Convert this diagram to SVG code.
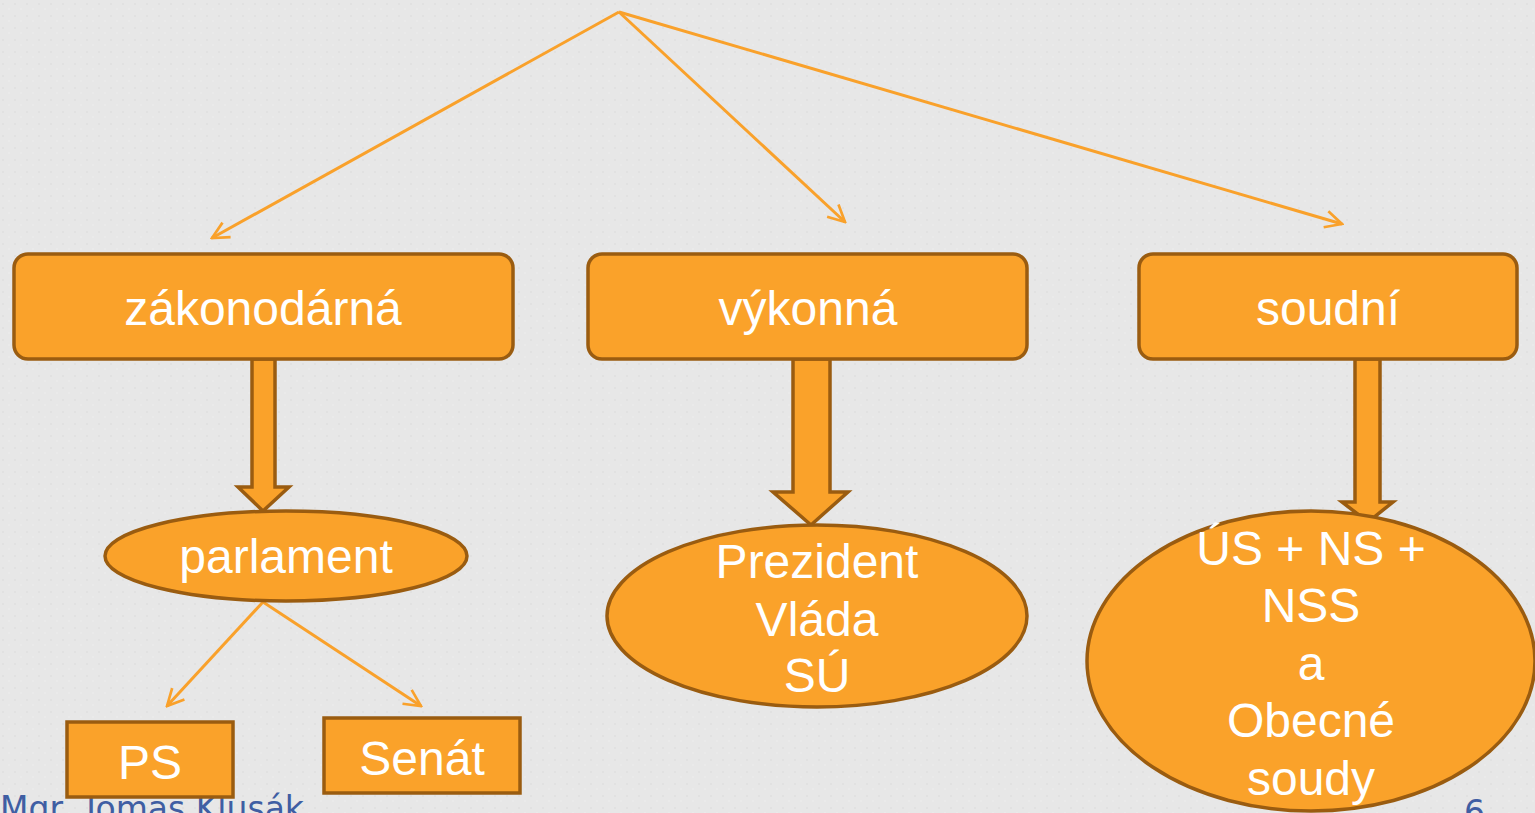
<svg xmlns="http://www.w3.org/2000/svg" width="1535" height="813" viewBox="0 0 1535 813">
<defs>
<style>
.box{fill:#faa22a;stroke:#9a5c10;stroke-width:3.5}
.t{fill:#ffffff;font-family:"Liberation Sans",Arial,sans-serif;font-size:48px;text-anchor:middle}
.ln{stroke:#f9a12b;stroke-width:3;fill:none}
.foot{fill:#3f5ea3;font-family:"DejaVu Sans",sans-serif;font-size:33px}
</style>
<marker id="ah" viewBox="0 0 12 12" refX="11" refY="6" markerWidth="20" markerHeight="20" markerUnits="userSpaceOnUse" orient="auto">
<path d="M1,1 L11,6 L1,11" fill="none" stroke="#f9a12b" stroke-width="1.6"/>
</marker>
<pattern id="noise" width="12" height="12" patternUnits="userSpaceOnUse">
<rect width="12" height="12" fill="#e7e7e7"/>
<circle cx="3" cy="4" r="0.8" fill="#dadada"/>
<circle cx="9" cy="9" r="0.7" fill="#f1f1f1"/>
</pattern>
</defs>
<rect width="1535" height="813" fill="url(#noise)"/>
<text class="foot" x="0" y="820">Mgr. Tomas Klusák</text>
<text class="foot" x="1464" y="824">6</text>
<g id="connectors">
<line class="ln" x1="619" y1="12" x2="212" y2="238" marker-end="url(#ah)"/>
<line class="ln" x1="619" y1="12" x2="845" y2="222" marker-end="url(#ah)"/>
<line class="ln" x1="619" y1="12" x2="1342" y2="224" marker-end="url(#ah)"/>
<line class="ln" x1="263" y1="602" x2="167" y2="706" marker-end="url(#ah)"/>
<line class="ln" x1="263" y1="602" x2="421" y2="706" marker-end="url(#ah)"/>
<path class="box" d="M252,359 L275,359 L275,487 L289,487 L263,511 L238,487 L252,487 Z"/>
<path class="box" d="M793,359 L830,359 L830,492 L848,492 L811,525 L773,492 L793,492 Z"/>
<path class="box" d="M1355,359 L1380,359 L1380,502 L1393,502 L1368,522 L1342,502 L1355,502 Z"/>
</g>
<g id="zakonodarna">
<rect class="box" x="14" y="254" width="499" height="105" rx="14"/>
<text class="t" x="263" y="325">zákonodárná</text>
</g>
<g id="vykonna">
<rect class="box" x="588" y="254" width="439" height="105" rx="14"/>
<text class="t" x="808" y="325">výkonná</text>
</g>
<g id="soudni">
<rect class="box" x="1139" y="254" width="378" height="105" rx="14"/>
<text class="t" x="1328" y="325">soudní</text>
</g>
<g id="parlament">
<ellipse class="box" cx="286" cy="556" rx="181" ry="45"/>
<text class="t" x="286" y="573">parlament</text>
</g>
<g id="prezident">
<ellipse class="box" cx="817" cy="616" rx="210" ry="91"/>
<text class="t" x="817" y="578">Prezident</text>
<text class="t" x="817" y="636">Vláda</text>
<text class="t" x="817" y="692">SÚ</text>
</g>
<g id="soudy">
<ellipse class="box" cx="1311" cy="661" rx="224" ry="150"/>
<text class="t" x="1311" y="565">ÚS + NS +</text>
<text class="t" x="1311" y="622">NSS</text>
<text class="t" x="1311" y="680">a</text>
<text class="t" x="1311" y="737">Obecné</text>
<text class="t" x="1311" y="795">soudy</text>
</g>
<g id="ps">
<rect class="box" x="67" y="722" width="166" height="75"/>
<text class="t" x="150" y="779">PS</text>
</g>
<g id="senat">
<rect class="box" x="324" y="718" width="196" height="75"/>
<text class="t" x="422" y="775">Senát</text>
</g>
</svg>
